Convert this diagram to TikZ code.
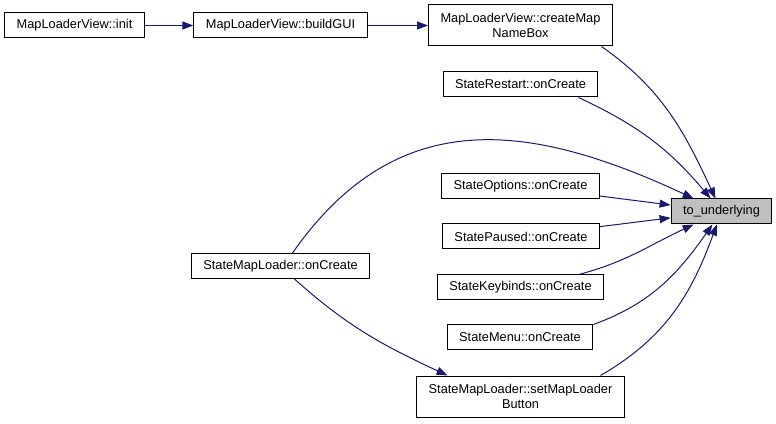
\documentclass[tikz,border=0pt]{standalone}
\usepackage{fontspec}
\setmainfont{Liberation Sans}
\usetikzlibrary{arrows.meta}
\definecolor{edgeNavy}{HTML}{191970}
\definecolor{targetGrey}{HTML}{BFBFBF}

\begin{document}
\begin{tikzpicture}[x=1pt,y=1pt,
  fn/.style={draw=black,line width=1pt,fill=white,inner xsep=12pt,inner ysep=0pt,minimum height=25pt,font=\fontsize{12.8}{15}\selectfont,align=center},
  call/.style={edgeNavy,line width=1pt,-{Triangle[length=11pt,width=8pt]}}]
\useasboundingbox (0,0) rectangle (776,423);
\node[fn] (init) at (74.5,397.5) {MapLoaderView::init};
\node[fn] (gui) at (280.5,397.5) {MapLoaderView::buildGUI};
\node[fn,minimum height=41pt] (nameBox) at (520.5,397.5) {MapLoaderView::createMap\\NameBox};
\node[fn] (restart) at (520.5,338.5) {StateRestart::onCreate};
\node[fn,fill=targetGrey] (under) at (721.5,211.5) {to\_underlying};
\node[fn] (options) at (520.5,237) {StateOptions::onCreate};
\node[fn] (paused) at (521,186.5) {StatePaused::onCreate};
\node[fn] (keybinds) at (520.5,136) {StateKeybinds::onCreate};
\node[fn] (menu) at (520,85.5) {StateMenu::onCreate};
\node[fn,minimum height=41pt] (mlButton) at (520.5,26.5) {StateMapLoader::setMapLoader\\Button};
\node[fn] (mlCreate) at (280.5,157) {StateMapLoader::onCreate};
\draw[call] (init) -- (gui);
\draw[call] (gui) -- (nameBox);
\draw[call] ([xshift=81pt]nameBox.south) to[out=-35,in=115] (under);
\draw[call] ([xshift=58pt]restart.south) to[out=-25,in=130] (under);
\draw[call] ([xshift=12pt]mlCreate.north) to[out=55,in=155,looseness=1.15] (under);
\draw[call] (options) -- (under);
\draw[call] (paused) -- (under);
\draw[call] ([xshift=60pt]keybinds.north) to[out=15,in=-155] (under);
\draw[call] (menu.north east) to[out=20,in=-125] (under);
\draw[call] ([xshift=80pt]mlButton.north) to[out=30,in=-110] (under);
\draw[call] ([xshift=14pt]mlCreate.south) to[out=-42,in=155] ([xshift=-73pt]mlButton.north);
\end{tikzpicture}
\end{document}
